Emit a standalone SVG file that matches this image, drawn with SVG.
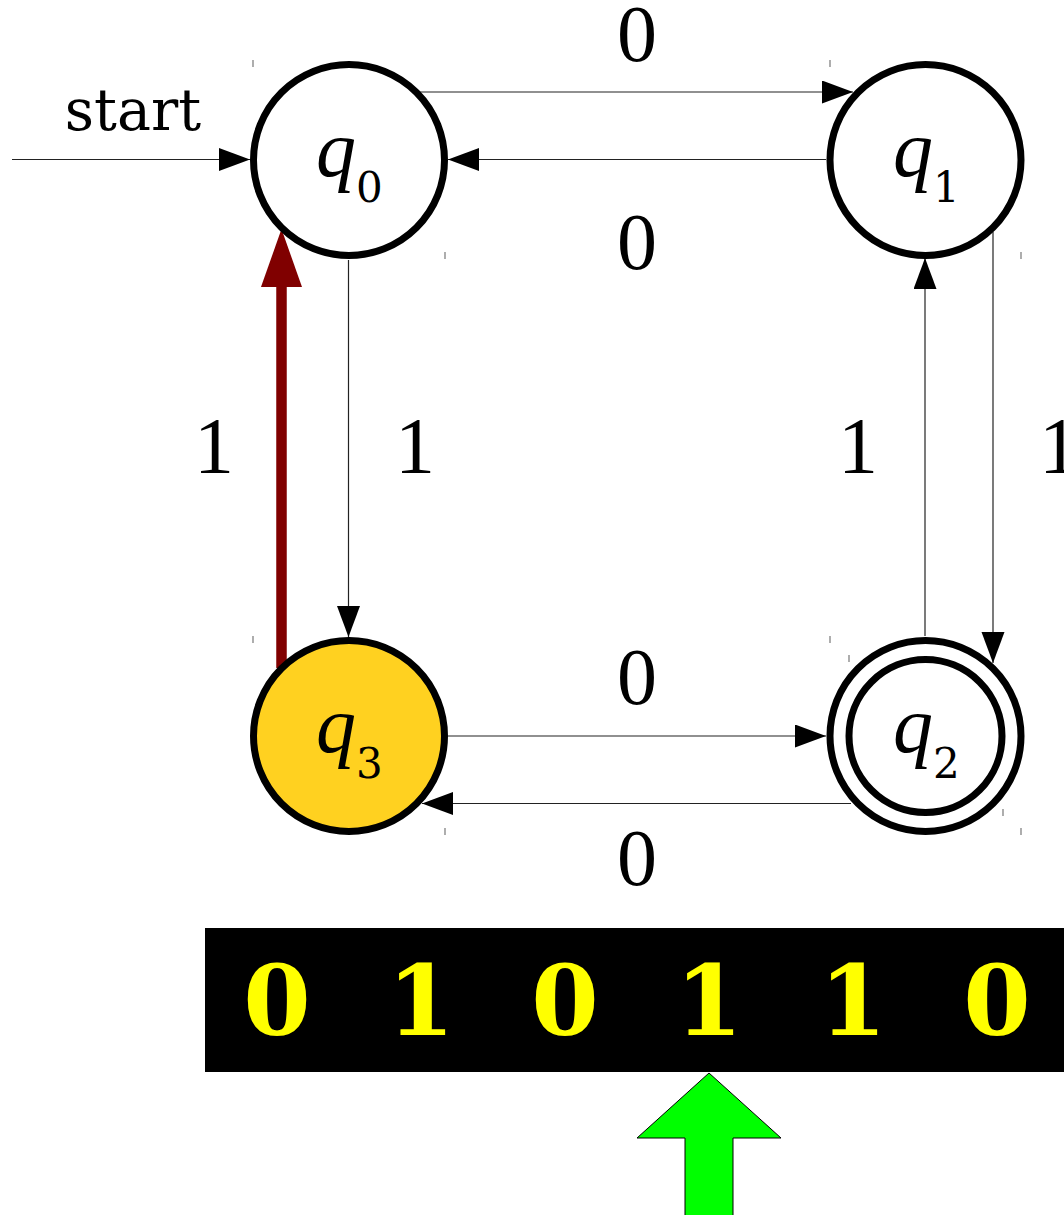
<svg xmlns="http://www.w3.org/2000/svg" width="1064" height="1215" viewBox="0 0 1064 1215">
<defs>
<style>
.state{fill:#ffffff;stroke:#000000;stroke-width:7}
.edge{stroke:#222222;stroke-width:1.2;fill:none}
.tick{stroke:#777777;stroke-width:1.2}
.lbl{font-family:"Liberation Serif","Times New Roman",serif;font-size:80px;fill:#000000;text-anchor:middle}
.q{font-family:"Liberation Serif","Times New Roman",serif;font-size:80px;font-style:italic;fill:#000000}
.sub{font-family:"DejaVu Serif",serif;font-size:42px;font-style:normal}
.tape{font-family:"DejaVu Serif",serif;font-weight:bold;font-size:97px;fill:#ffff00;text-anchor:middle}
</style>
<marker id="ah" markerUnits="userSpaceOnUse" markerWidth="32" markerHeight="24" refX="31" refY="11.5" orient="auto">
<path d="M0,0 L31,11.5 L0,23 z" fill="#000000"/>
</marker>
</defs>
<rect x="0" y="0" width="1064" height="1215" fill="#ffffff"/>

<g id="ticks">
<line class="tick" x1="253" y1="60" x2="253" y2="67"/>
<line class="tick" x1="445" y1="252" x2="445" y2="259"/>
<line class="tick" x1="830" y1="60" x2="830" y2="67"/>
<line class="tick" x1="1021" y1="252" x2="1021" y2="259"/>
<line class="tick" x1="253" y1="636" x2="253" y2="643"/>
<line class="tick" x1="445" y1="828" x2="445" y2="835"/>
<line class="tick" x1="830" y1="636" x2="830" y2="643"/>
<line class="tick" x1="849" y1="655" x2="849" y2="662"/>
<line class="tick" x1="1003" y1="809" x2="1003" y2="816"/>
<line class="tick" x1="1021" y1="828" x2="1021" y2="835"/>
</g>

<g id="connectors">
<line class="edge" x1="12" y1="159.5" x2="250" y2="159.5" marker-end="url(#ah)"/>
<line class="edge" x1="420" y1="92" x2="853" y2="92" marker-end="url(#ah)"/>
<line class="edge" x1="826" y1="159.5" x2="448" y2="159.5" marker-end="url(#ah)"/>
<line class="edge" x1="348.5" y1="260" x2="348.5" y2="637" marker-end="url(#ah)"/>
<line class="edge" x1="925" y1="636" x2="925" y2="258" marker-end="url(#ah)"/>
<line class="edge" x1="993" y1="232" x2="993" y2="663" marker-end="url(#ah)"/>
<line class="edge" x1="448" y1="736" x2="826" y2="736" marker-end="url(#ah)"/>
<line class="edge" x1="851" y1="803.5" x2="422" y2="803.5" marker-end="url(#ah)"/>
<g id="active-edge">
<line x1="281.5" y1="668" x2="281.5" y2="285" stroke="#800000" stroke-width="10.5"/>
<polygon points="281.5,229 302,287 261,287" fill="#800000"/>
</g>
</g>

<g id="q0">
<circle class="state" cx="349" cy="160" r="95.5"/>
<text class="q" x="316" y="176">q<tspan class="sub" dy="26">0</tspan></text>
</g>
<g id="q1">
<circle class="state" cx="925.5" cy="160" r="95.5"/>
<text class="q" x="893" y="176">q<tspan class="sub" dy="26">1</tspan></text>
</g>
<g id="q3">
<circle class="state" cx="349" cy="736" r="95.5" style="fill:#ffd120"/>
<text class="q" x="316" y="752">q<tspan class="sub" dy="26">3</tspan></text>
</g>
<g id="q2">
<circle class="state" cx="925.5" cy="736" r="95.5"/>
<circle class="state" cx="925.5" cy="736" r="76.5" style="fill:none"/>
<text class="q" x="893" y="752">q<tspan class="sub" dy="26">2</tspan></text>
</g>

<g id="labels">
<text x="133" y="130" style="font-family:'DejaVu Serif',serif;font-size:57px;fill:#000000;text-anchor:middle">start</text>
<text class="lbl" x="637" y="61">0</text>
<text class="lbl" x="637" y="269">0</text>
<text class="lbl" x="214" y="473">1</text>
<text class="lbl" x="415" y="473">1</text>
<text class="lbl" x="858" y="473">1</text>
<text class="lbl" x="1059" y="473">1</text>
<text class="lbl" x="637" y="704">0</text>
<text class="lbl" x="637" y="885">0</text>
</g>

<g id="tape">
<rect x="205" y="928" width="870" height="144" fill="#000000"/>
<text class="tape" x="277" y="1035">0</text>
<text class="tape" x="421" y="1035">1</text>
<text class="tape" x="565" y="1035">0</text>
<text class="tape" x="709" y="1035">1</text>
<text class="tape" x="853" y="1035">1</text>
<text class="tape" x="997" y="1035">0</text>
</g>

<g id="head">
<polygon points="709,1073 781,1138 733,1138 733,1220 685,1220 685,1138 637,1138" fill="#00ff00" stroke="#000000" stroke-width="1"/>
</g>
</svg>
